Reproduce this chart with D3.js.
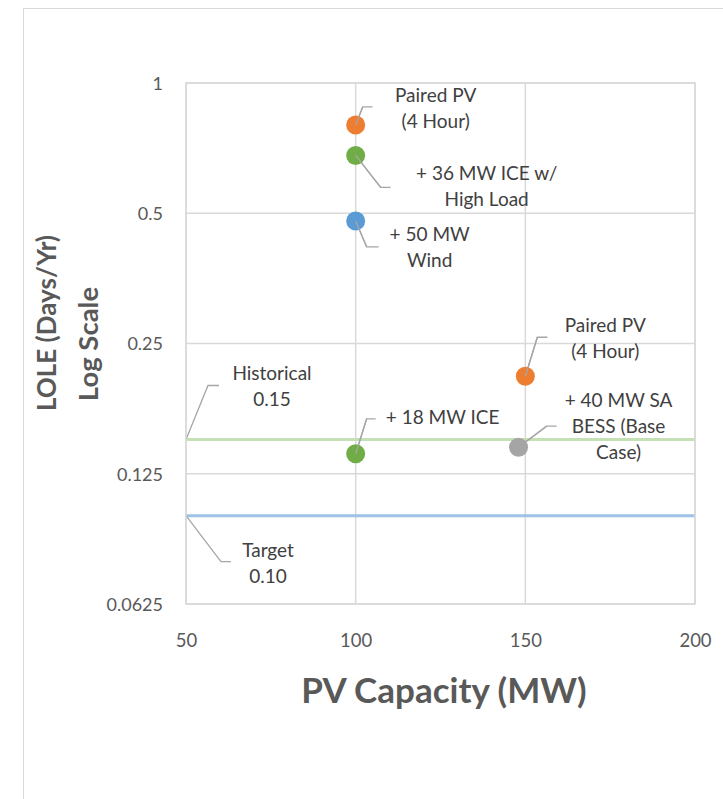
<!DOCTYPE html>
<html>
<head>
<meta charset="utf-8">
<script src="https://cdn.jsdelivr.net/npm/d3@7"></script>
<style>
  body { margin: 0; background: #fff; }
  svg { display: block; font-family: Lato, "Open Sans", sans-serif; }
</style>
</head>
<body>
<svg id="chart" width="723" height="799"></svg>
<script>
// ---- data ----
const pointX = [100, 100, 100, 150, 148, 100];
const pointY = [0.80, 0.68, 0.48, 0.21, 0.144, 0.139];
const pointColors = ["#ED7D31", "#70AD47", "#5B9BD5", "#ED7D31", "#A5A5A5", "#70AD47"];
const pointLabels = [
  ["Paired PV", "(4 Hour)"],
  ["+ 36 MW ICE w/", "High Load"],
  ["+ 50 MW", "Wind"],
  ["Paired PV", "(4 Hour)"],
  ["+ 40 MW SA", "BESS (Base", "Case)"],
  ["+ 18 MW ICE"]
];
const refNames = ["Historical", "Target"];
const refValues = [0.15, 0.10];
const refLabels = [["Historical", "0.15"], ["Target", "0.10"]];
const refColors = ["#C5E0B4", "#9DC3E6"];
const xTicks = [50, 100, 150, 200];
const yTicks = [1, 0.5, 0.25, 0.125, 0.0625];
const yTickLabels = ["1", "0.5", "0.25", "0.125", "0.0625"];

// ---- label placement (pixel offsets from the point: elbow, label center, first baseline) ----
const pointLabelPos = [
  {ex: 7, ey: -18, hx: 17, lx: 80, ly: -23},
  {ex: 25, ey: 32, hx: 35, lx: 131, ly: 25},
  {ex: 11, ey: 26, hx: 23, lx: 74, ly: 20},
  {ex: 12, ey: -39, hx: 22, lx: 80, ly: -44},
  {ex: 28, ey: -21, hx: 38, lx: 100, ly: -40},
  {ex: 11, ey: -35, hx: 20, lx: 87, ly: -30}
];
const refLabelPos = [
  {ex: 22, ey: -54, hx: 33, lx: 86, ly: -59},
  {ex: 35, ey: 46, hx: 45, lx: 82, ly: 41}
];

const svg = d3.select("#chart");
const pLeft = 186, pRight = 695, pTop = 83, pBottom = 604;

// outer chart border
svg.append("rect").attr("x", 23.5).attr("y", 8.5).attr("width", 720).attr("height", 800)
  .attr("fill", "#fff").attr("stroke", "#D9D9D9").attr("stroke-width", 1);

const x = d3.scaleLinear().domain([50, 200]).range([pLeft, pRight]);
const y = d3.scaleLog().base(2).domain([0.0625, 1]).range([pBottom, pTop]);

// gridlines
svg.append("g").selectAll("line").data(xTicks).join("line")
  .attr("x1", d => x(d)).attr("x2", d => x(d)).attr("y1", pTop).attr("y2", pBottom)
  .attr("stroke", "#D9D9D9").attr("stroke-width", 1.5);
svg.append("g").selectAll("line").data(yTicks).join("line")
  .attr("x1", pLeft).attr("x2", pRight).attr("y1", d => y(d)).attr("y2", d => y(d))
  .attr("stroke", "#D9D9D9").attr("stroke-width", 1.5);

// axes (tick labels only)
const xAxis = d3.axisBottom(x).tickValues(xTicks).tickSize(0).tickPadding(0).tickFormat(d3.format("d"));
const gx = svg.append("g").attr("transform", `translate(0,${pBottom + 43})`).call(xAxis);
gx.select(".domain").remove();
gx.selectAll("text").attr("font-size", 18.5).attr("fill", "#595959").attr("font-family", "Lato, sans-serif").attr("dy", 0);

const yAxis = d3.axisLeft(y).tickValues(yTicks).tickSize(0).tickPadding(0)
  .tickFormat((d, i) => yTickLabels[i]);
const gy = svg.append("g").attr("transform", `translate(${pLeft - 23},0)`).call(yAxis);
gy.select(".domain").remove();
gy.selectAll("text").attr("font-size", 18).attr("fill", "#595959").attr("font-family", "Lato, sans-serif").attr("dy", "0.35em");

// reference lines
svg.append("g").selectAll("line").data(refValues).join("line")
  .attr("x1", x(50)).attr("x2", x(200)).attr("y1", d => y(d)).attr("y2", d => y(d))
  .attr("stroke", (d, i) => refColors[i]).attr("stroke-width", 3);

// leader lines and labels helper
function drawLabel(px, py, pos, lines) {
  const ex = px + pos.ex, ey = py + pos.ey;
  svg.append("polyline")
    .attr("points", `${px},${py} ${ex},${ey} ${px + pos.hx},${ey}`)
    .attr("fill", "none").attr("stroke", "#A6A6A6").attr("stroke-width", 1.3);
  const t = svg.append("text").attr("x", px + pos.lx).attr("y", py + pos.ly)
    .attr("text-anchor", "middle").attr("font-size", 19).attr("fill", "#404040");
  lines.forEach((s, i) => t.append("tspan").attr("x", px + pos.lx).attr("dy", i === 0 ? 0 : 26).text(s));
}

refValues.forEach((v, i) => drawLabel(x(50), y(v), refLabelPos[i], refLabels[i]));

// points
pointX.forEach((vx, i) => {
  drawLabel(x(vx), y(pointY[i]), pointLabelPos[i], pointLabels[i]);
});
svg.append("g").selectAll("circle").data(pointX).join("circle")
  .attr("cx", d => x(d)).attr("cy", (d, i) => y(pointY[i])).attr("r", 9.5)
  .attr("fill", (d, i) => pointColors[i]);
// leader start drawn over points
pointX.forEach((vx, i) => {
  const px = x(vx), py = y(pointY[i]), p = pointLabelPos[i];
  svg.append("line").attr("x1", px).attr("y1", py).attr("x2", px + p.ex).attr("y2", py + p.ey)
    .attr("stroke", "#A6A6A6").attr("stroke-width", 1.3);
});

// plot border
svg.append("rect").attr("x", pLeft).attr("y", pTop).attr("width", pRight - pLeft).attr("height", pBottom - pTop)
  .attr("fill", "none").attr("stroke", "#D9D9D9").attr("stroke-width", 1.5);

// axis titles
svg.append("text").attr("x", 444).attr("y", 703).attr("text-anchor", "middle")
  .attr("font-size", 35).attr("font-weight", "bold").attr("fill", "#595959").text("PV Capacity (MW)");
svg.append("text").attr("transform", "translate(56,323) rotate(-90)")
  .attr("text-anchor", "middle").attr("font-size", 26).attr("font-weight", "bold").attr("fill", "#595959")
  .text("LOLE (Days/Yr)");
svg.append("text").attr("transform", "translate(98,344) rotate(-90)")
  .attr("text-anchor", "middle").attr("font-size", 27.5).attr("font-weight", "bold").attr("fill", "#595959")
  .text("Log Scale");
</script>
</body>
</html>
